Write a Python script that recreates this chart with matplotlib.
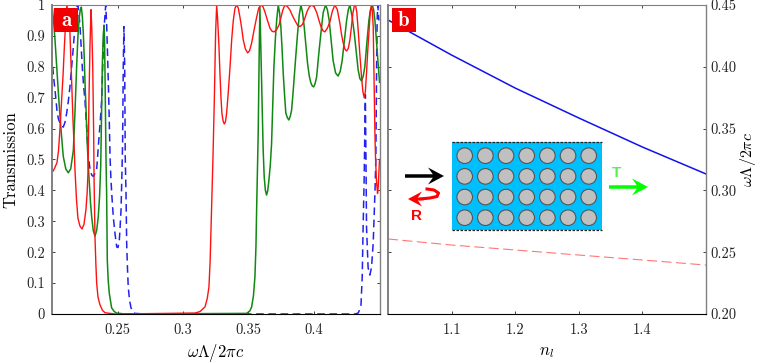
import matplotlib
matplotlib.use("Agg")
import matplotlib.pyplot as plt
from matplotlib.patches import Rectangle, Circle, FancyArrow

plt.rcParams['font.family'] = ['cmr10', 'DejaVu Sans']
plt.rcParams['mathtext.fontset'] = 'cm'
plt.rcParams['axes.unicode_minus'] = False
plt.rcParams['axes.formatter.use_mathtext'] = True

# panel a, transmission spectra
red_x = [.2000, .2008, .2020, .2038, .2050, .2061, .2072, .2084, .2095, .2105, .2114, .2122, .2137, .2150, .2160,
         .2168, .2175, .2187, .2198, .2213, .2229, .2244, .2259, .2268, .2275, .2279, .2282, .2290, .2298, .2304,
         .2311, .2318, .2321, .2328, .2335, .2341, .2351, .2366, .2385, .2405, .2481, .3091, .3130, .3168, .3185,
         .3198, .3207, .3214, .3222, .3229, .3239, .3249, .3257, .3265, .3274, .3282, .3290, .3297, .3306, .3315,
         .3324, .3333, .3346, .3359, .3372, .3384, .3397, .3409, .3422, .3435, .3448, .3460, .3476, .3493, .3508,
         .3524, .3543, .3562, .3578, .3595, .3610, .3625, .3645, .3664, .3680, .3695, .3714, .3733, .3748, .3763,
         .3778, .3797, .3816, .3835, .3854, .3874, .3893, .3912, .3931, .3948, .3966, .3984, .4003, .4022, .4038,
         .4053, .4068, .4083, .4102, .4121, .4140, .4159, .4178, .4198, .4210, .4223, .4236, .4249, .4262, .4274,
         .4286, .4297, .4307, .4317, .4327, .4337, .4350, .4363, .4373, .4383, .4392, .4401, .4410, .4419, .4429,
         .4439, .4445, .4452, .4459, .4465, .4470, .4477, .4485, .4490, .4495, .4500]
red_t = [.466, .462, .472, .49, .53, .60, .68, .77, .87, .95, 1.0, .97, .91, .75, .63,
         .553, .47, .37, .31, .285, .275, .29, .337, .39, .46, .58, .69, .87, .985, .92,
         .80, .585, .44, .25, .16, .10, .055, .03, .012, .004, 0, .003, .008, .023, .05,
         .087, .17, .28, .40, .51, .69, .91, 1.0, .95, .87, .78, .70, .65, .625, .615,
         .622, .65, .72, .80, .89, .95, .99, 1.0, .99, .96, .925, .887, .858, .845, .852,
         .877, .92, .96, .99, 1.0, .995, .978, .95, .925, .915, .913, .92, .935, .96, .985,
         1.0, .995, .984, .966, .95, .935, .93, .937, .958, .98, .995, 1.0, .993, .974, .95,
         .93, .917, .913, .925, .945, .98, 1.0, .985, .94, .905, .877, .857, .851, .86, .887,
         .93, .974, .995, 1.0, .975, .92, .84, .767, .72, .70, .72, .78, .85, .91, .975,
         1.0, .98, .93, .748, .585, .50, .43, .39, .41, .456, .50]

green_x = [.2000, .2012, .2024, .2036, .2048, .2061, .2073, .2086, .2105, .2124, .2143, .2163, .2175, .2188, .2198,
           .2208, .2216, .2224, .2232, .2239, .2246, .2252, .2261, .2269, .2277, .2285, .2294, .2303, .2315, .2328,
           .2341, .2353, .2363, .2372, .2378, .2384, .2391, .2397, .2401, .2404, .2408, .2412, .2417, .2422, .2429,
           .2437, .2455, .2475, .2494, .2557, .3486, .3510, .3524, .3538, .3549, .3557, .3562, .3570, .3574, .3582,
           .3587, .3593, .3600, .3606, .3612, .3620, .3629, .3638, .3647, .3656, .3666, .3676, .3685, .3694, .3705,
           .3715, .3727, .3737, .3747, .3756, .3765, .3775, .3785, .3797, .3808, .3819, .3829, .3839, .3849, .3862,
           .3875, .3888, .3900, .3913, .3925, .3938, .3951, .3964, .3976, .3987, .3997, .4008, .4020, .4036, .4053,
           .4070, .4088, .4102, .4116, .4131, .4146, .4165, .4184, .4200, .4215, .4232, .4249, .4262, .4274, .4290,
           .4307, .4322, .4337, .4350, .4363, .4376, .4388, .4404, .4419, .4431, .4444, .4455, .4465, .4474, .4482,
           .4491, .4500]
green_t = [1.0, .95, .88, .80, .72, .64, .575, .51, .47, .457, .47, .53, .65, .80, .90,
           .96, .985, .993, .96, .91, .83, .748, .65, .553, .48, .424, .36, .314, .27, .252,
           .27, .314, .38, .48, .65, .80, .90, .935, .89, .80, .65, .51, .39, .175, .11,
           .068, .02, .008, .003, 0, .002, .01, .023, .06, .12, .22, .337, .50, .585, .854,
           .993, .88, .748, .63, .53, .443, .40, .385, .40, .434, .48, .55, .68, .80, .89,
           .95, 1.0, .975, .93, .86, .78, .71, .65, .635, .628, .64, .66, .71, .767, .84,
           .91, .97, 1.0, .975, .93, .87, .81, .77, .748, .738, .735, .745, .767, .84, .91,
           .975, 1.0, .985, .95, .885, .82, .78, .77, .785, .82, .885, .95, .985, 1.0, .965,
           .91, .85, .79, .762, .754, .77, .80, .88, .95, .985, 1.0, .985, .95, .90, .854,
           .80, .75]

blue_x = [.2005, .2014, .2023, .2040, .2050, .2061, .2073, .2086, .2099, .2112, .2125, .2137, .2150, .2163, .2175,
          .2188, .2198, .2206, .2214, .2222, .2231, .2241, .2252, .2265, .2277, .2290, .2303, .2315, .2328, .2341,
          .2347, .2353, .2366, .2379, .2385, .2391, .2400, .2410, .2417, .2424, .2430, .2437, .2443, .2450, .2459,
          .2468, .2481, .2494, .2504, .2514, .2521, .2527, .2533, .2539, .2544, .2549, .2555, .2559, .2565, .2570,
          .2576, .2582, .2592, .2603, .2615, .2633, .2710, .4312, .4337, .4358, .4368, .4375, .4383, .4392, .4398,
          .4401, .4413, .4426, .4439, .4452, .4465, .4472, .4478, .4482, .4487, .4495]
blue_t = [.80, .76, .725, .65, .63, .618, .608, .605, .62, .65, .69, .735, .80, .864, .93,
          .993, 1.0, .97, .93, .87, .80, .74, .69, .60, .51, .47, .45, .445, .455, .47,
          .50, .54, .61, .69, .77, .854, .94, 1.0, .94, .84, .75, .63, .51, .434, .37,
          .314, .26, .217, .215, .24, .29, .337, .44, .553, .80, .93, .80, .51, .39, .23,
          .15, .087, .045, .02, .008, .002, 0, 0, .003, .023, .12, .28, .44, .71, .44,
          .28, .15, .126, .15, .23, .39, .50, .80, .95, 1.0, .95]

# panel b, band edges
nl = [1.0, 1.1, 1.2, 1.3, 1.4, 1.5]
upper_edge = [.4379, .4095, .3828, .3586, .3351, .3133]
lower_edge = [.2607, .2558, .2518, .2477, .2437, .2396]

t_ticks = [0, .1, .2, .3, .4, .5, .6, .7, .8, .9, 1]
t_labels = ['0', '0.1', '0.2', '0.3', '0.4', '0.5', '0.6', '0.7', '0.8', '0.9', '1']
w_ticks = [.25, .3, .35, .4]
w_labels = ['0.25', '0.3', '0.35', '0.4']
n_ticks = [1.1, 1.2, 1.3, 1.4]
n_labels = ['1.1', '1.2', '1.3', '1.4']
edge_ticks = [.2, .25, .3, .35, .4, .45]
edge_labels = ['0.20', '0.25', '0.30', '0.35', '0.40', '0.45']

W, H = 763.0, 363.0
fig = plt.figure(figsize=(7.63, 3.63), dpi=100)
ax1 = fig.add_axes([52 / W, 49 / H, 327.5 / W, 309 / H])
ax2 = fig.add_axes([388 / W, 49 / H, 318 / W, 309 / H])

def style_axes(ax):
    for side in ['left', 'top', 'right']:
        ax.spines[side].set_color('#808080')
    ax.spines['left'].set_linewidth(1.4)
    ax.spines['right'].set_linewidth(1.0)
    ax.spines['bottom'].set_color('black')
    ax.tick_params(which='both', direction='in', length=2.2, width=0.6, labelsize=10.4, colors='#222222', pad=5)
    ax.tick_params(axis='x', pad=7)

ax1.plot(blue_x, blue_t, color='#2222ee', lw=1.1, dashes=(5, 3))
ax1.plot(green_x, green_t, color='#118811', lw=1.1)
ax1.plot(red_x, red_t, color='#ff1111', lw=1.0)
ax1.set_xlim(.2, .45)
ax1.set_ylim(0, 1)
ax1.set_xticks(w_ticks)
ax1.set_xticklabels(w_labels)
ax1.set_yticks(t_ticks)
ax1.set_yticklabels(t_labels)
ax1.tick_params(top=True, right=True)
ax1.set_xlabel(r'$\omega\Lambda/2\pi c$', fontsize=12, labelpad=3)
ax1.set_ylabel('Transmission', fontsize=12, labelpad=6)
style_axes(ax1)

ax2.plot(nl, upper_edge, color='#1111ee', lw=1.1)
ax2.plot(nl, lower_edge, color='#ff7777', lw=0.8, dashes=(9, 4))
ax2.set_xlim(1.0, 1.5)
ax2.set_ylim(.2, .45)
ax2.set_xticks(n_ticks)
ax2.set_xticklabels(n_labels)
ax2.set_yticks(edge_ticks)
ax2.set_yticklabels(edge_labels)
ax2.yaxis.tick_right()
ax2.yaxis.set_label_position('right')
ax2.tick_params(left=True, right=True, top=True)
ax2.set_xlabel(r'$n_l$', fontsize=12, labelpad=5)
ax2.set_ylabel(r'$\omega\Lambda/2\pi c$', fontsize=11.5, labelpad=1)
style_axes(ax2)
ax2.tick_params(axis='y', pad=3.5)

# overlay in pixel coordinates for the labels and the sketch
ov = fig.add_axes([0, 0, 1, 1], facecolor='none')
ov.set_xlim(0, W)
ov.set_ylim(H, 0)
ov.axis('off')

for x0, letter in [(54, 'a'), (392, 'b')]:
    ov.add_patch(Rectangle((x0, 8), 24, 24, color='#f00000', lw=0))
    ov.text(x0 + 12, 20, letter, color='white', family='cmb10', fontsize=15, ha='center', va='center')

ov.add_patch(Rectangle((451.7, 142.3), 150, 87.7, color='#00bfff', lw=0))
ov.plot([451.7, 601.7], [142.3, 142.3], color='#222222', lw=0.9, dashes=(2, 1.2))
ov.plot([451.7, 601.7], [230, 230], color='#222222', lw=0.9, dashes=(2, 1.2))
for col in range(7):
    for row in range(4):
        ov.add_patch(Circle((464.7 + col * 20.67, 155.7 + row * 20.67), 7.8, fc='#c0c0c0', ec='#555555', lw=0.8))

ov.add_patch(FancyArrow(405, 176, 39, 0, width=3.5, head_width=17, head_length=16, length_includes_head=True,
                        overhang=0.3, color='black', lw=0))
ov.add_patch(FancyArrow(609, 187, 39, 0, width=3.5, head_width=17, head_length=16, length_includes_head=True,
                        overhang=0.3, color='#00ff00', lw=0))
ov.plot([427, 434, 438.5, 437, 430, 420], [189, 190, 193, 196.5, 198, 199], color='#ff0000', lw=2.2)
ov.add_patch(FancyArrow(424, 199, -16, 0, width=2.5, head_width=15, head_length=14, length_includes_head=True,
                        overhang=0.3, color='#ff0000', lw=0))
ov.text(417, 216, 'R', color='#ff0000', family='Liberation Sans', weight='bold', fontsize=11, ha='center', va='center')
ov.text(617, 173, 'T', color='#55ee55', family='Liberation Sans', weight='bold', fontsize=11, ha='center', va='center')

fig.savefig('out.png', dpi=100)
